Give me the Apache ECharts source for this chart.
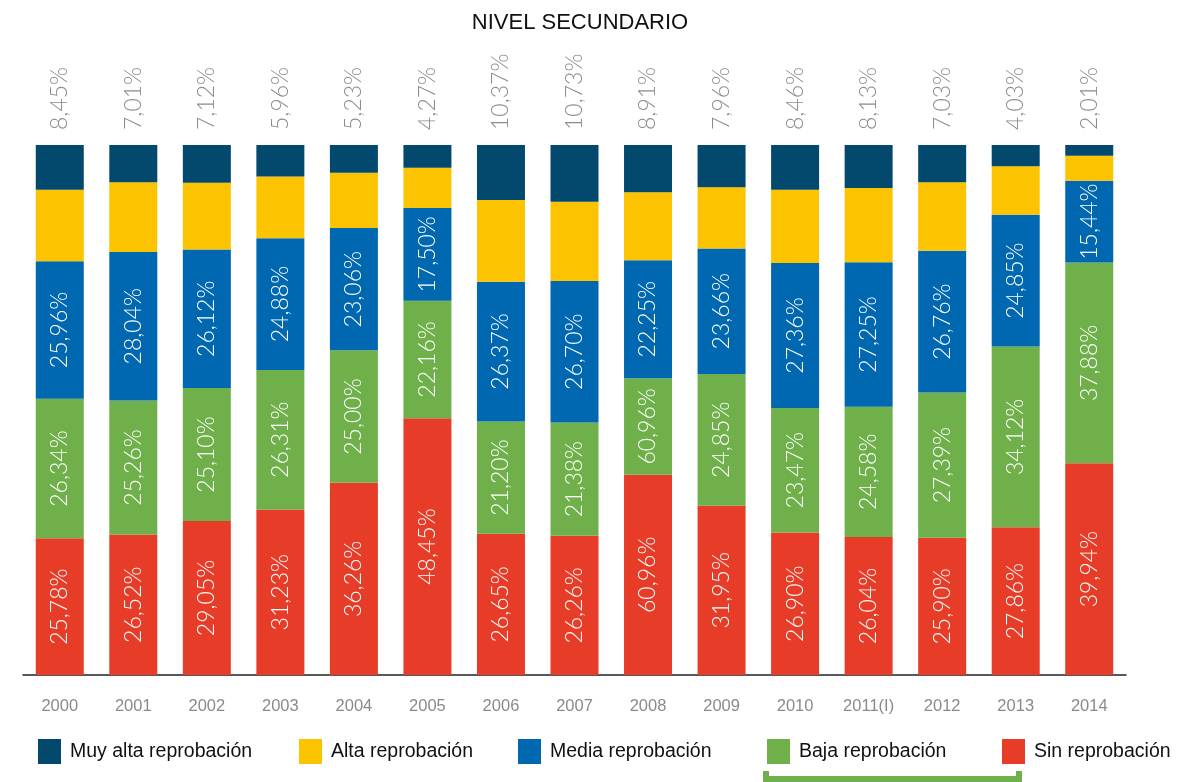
<!DOCTYPE html>
<html>
<head>
<meta charset="utf-8">
<script src="https://cdn.jsdelivr.net/npm/echarts@6/dist/echarts.min.js"></script>
<style>
  html, body { margin: 0; padding: 0; background: #fff; }
  #chart { width: 1198px; height: 782px; }
</style>
</head>
<body>
<div id="chart"></div>
<script>
// categories
var years = ['2000','2001','2002','2003','2004','2005','2006','2007','2008','2009','2010','2011(I)','2012','2013','2014'];
// series values (% of students)
var muyAlta = [8.45,7.01,7.12,5.96,5.23,4.27,10.37,10.73,8.91,7.96,8.46,8.13,7.03,4.03,2.01];
var alta    = [13.47,13.17,12.61,11.62,10.45,7.62,15.41,14.93,12.84,11.58,13.81,14.00,12.92,9.14,4.73];
var media   = [25.96,28.04,26.12,24.88,23.06,17.50,26.37,26.70,22.25,23.66,27.36,27.25,26.76,24.85,15.44];
var baja    = [26.34,25.26,25.10,26.31,25.00,22.16,21.20,21.38,18.20,24.85,23.47,24.58,27.39,34.12,37.88];
var sin     = [25.78,26.52,29.05,31.23,36.26,48.45,26.65,26.26,37.80,31.95,26.90,26.04,25.90,27.86,39.94];
// printed labels that differ from the bar height in the original (2008)
var bajaPrinted = {8: '60,96%'};
var sinPrinted  = {8: '60,96%'};

var colors = {
	muyAlta: '#03496e',
	alta: '#fcc300',
	media: '#0067b1',
	baja: '#6fb04b',
	sin: '#e63c28'
};

var numFont = 'Lato';
var textFont = '"Liberation Sans", sans-serif';

function pct(v){
	return v.toFixed(2).replace('.', ',') + '%';
}

function insideLabel(printed){
	return {
		show: true,
		position: 'inside',
		rotate: 90,
		color: '#fff',
		fontFamily: numFont,
		fontWeight: 300,
		fontSize: 23,
		formatter: function(p){
			if(printed && printed[p.dataIndex]) return printed[p.dataIndex];
			return pct(p.value);
		}
	};
}

var chart = echarts.init(document.getElementById('chart'));

function legendAt(name, left){
	return {
		data: [name],
		left: left,
		top: 734,
		itemWidth: 23,
		itemHeight: 25,
		icon: 'rect',
		selectedMode: false,
		textStyle: {
			color: '#111',
			fontFamily: textFont,
			fontSize: 19.5,
			padding: [0, 0, 0, 4]
		}
	};
}

chart.setOption({
	animation: false,
	title: {
		text: 'NIVEL SECUNDARIO',
		left: 575,
		textAlign: 'center',
		top: 7,
		textStyle: {
			color: '#111',
			fontFamily: textFont,
			fontWeight: 'normal',
			fontSize: 22
		}
	},
	legend: [
		legendAt('Muy alta reprobación', 33),
		legendAt('Alta reprobación', 294),
		legendAt('Media reprobación', 513),
		legendAt('Baja reprobación', 762),
		legendAt('Sin reprobación', 997)
	],
	grid: {
		left: 23,
		right: 72,
		top: 145,
		bottom: 107
	},
	xAxis: {
		type: 'category',
		data: years,
		axisLine: { lineStyle: { color: '#222', width: 1.5 } },
		axisTick: { show: false },
		axisLabel: {
			interval: 0,
			color: '#8a8a8a',
			fontFamily: textFont,
			fontSize: 16.5,
			margin: 23
		}
	},
	yAxis: {
		type: 'value',
		min: 0,
		max: 100,
		show: false
	},
	series: [
		{
			name: 'Sin reprobación',
			type: 'bar',
			stack: 'total',
			barWidth: 48,
			data: sin,
			itemStyle: { color: colors.sin },
			label: insideLabel(sinPrinted)
		},
		{
			name: 'Baja reprobación',
			type: 'bar',
			stack: 'total',
			data: baja,
			itemStyle: { color: colors.baja },
			label: insideLabel(bajaPrinted)
		},
		{
			name: 'Media reprobación',
			type: 'bar',
			stack: 'total',
			data: media,
			itemStyle: { color: colors.media },
			label: insideLabel(null)
		},
		{
			name: 'Alta reprobación',
			type: 'bar',
			stack: 'total',
			data: alta,
			itemStyle: { color: colors.alta }
		},
		{
			name: 'Muy alta reprobación',
			type: 'bar',
			stack: 'total',
			data: muyAlta,
			itemStyle: { color: colors.muyAlta },
			label: {
				show: true,
				position: 'top',
				distance: 15,
				rotate: 90,
				align: 'left',
				verticalAlign: 'middle',
				color: '#8c8c8c',
				fontFamily: numFont,
				fontWeight: 300,
				fontSize: 23,
				formatter: function(p){ return pct(p.value); }
			}
		}
	],
	graphic: [
		{
			// green bracket under "Baja reprobación"
			type: 'polyline',
			shape: { points: [[766, 771], [766, 779], [1019, 779], [1019, 771]] },
			style: { stroke: colors.baja, lineWidth: 6, fill: null }
		}
	]
});
</script>
</body>
</html>
